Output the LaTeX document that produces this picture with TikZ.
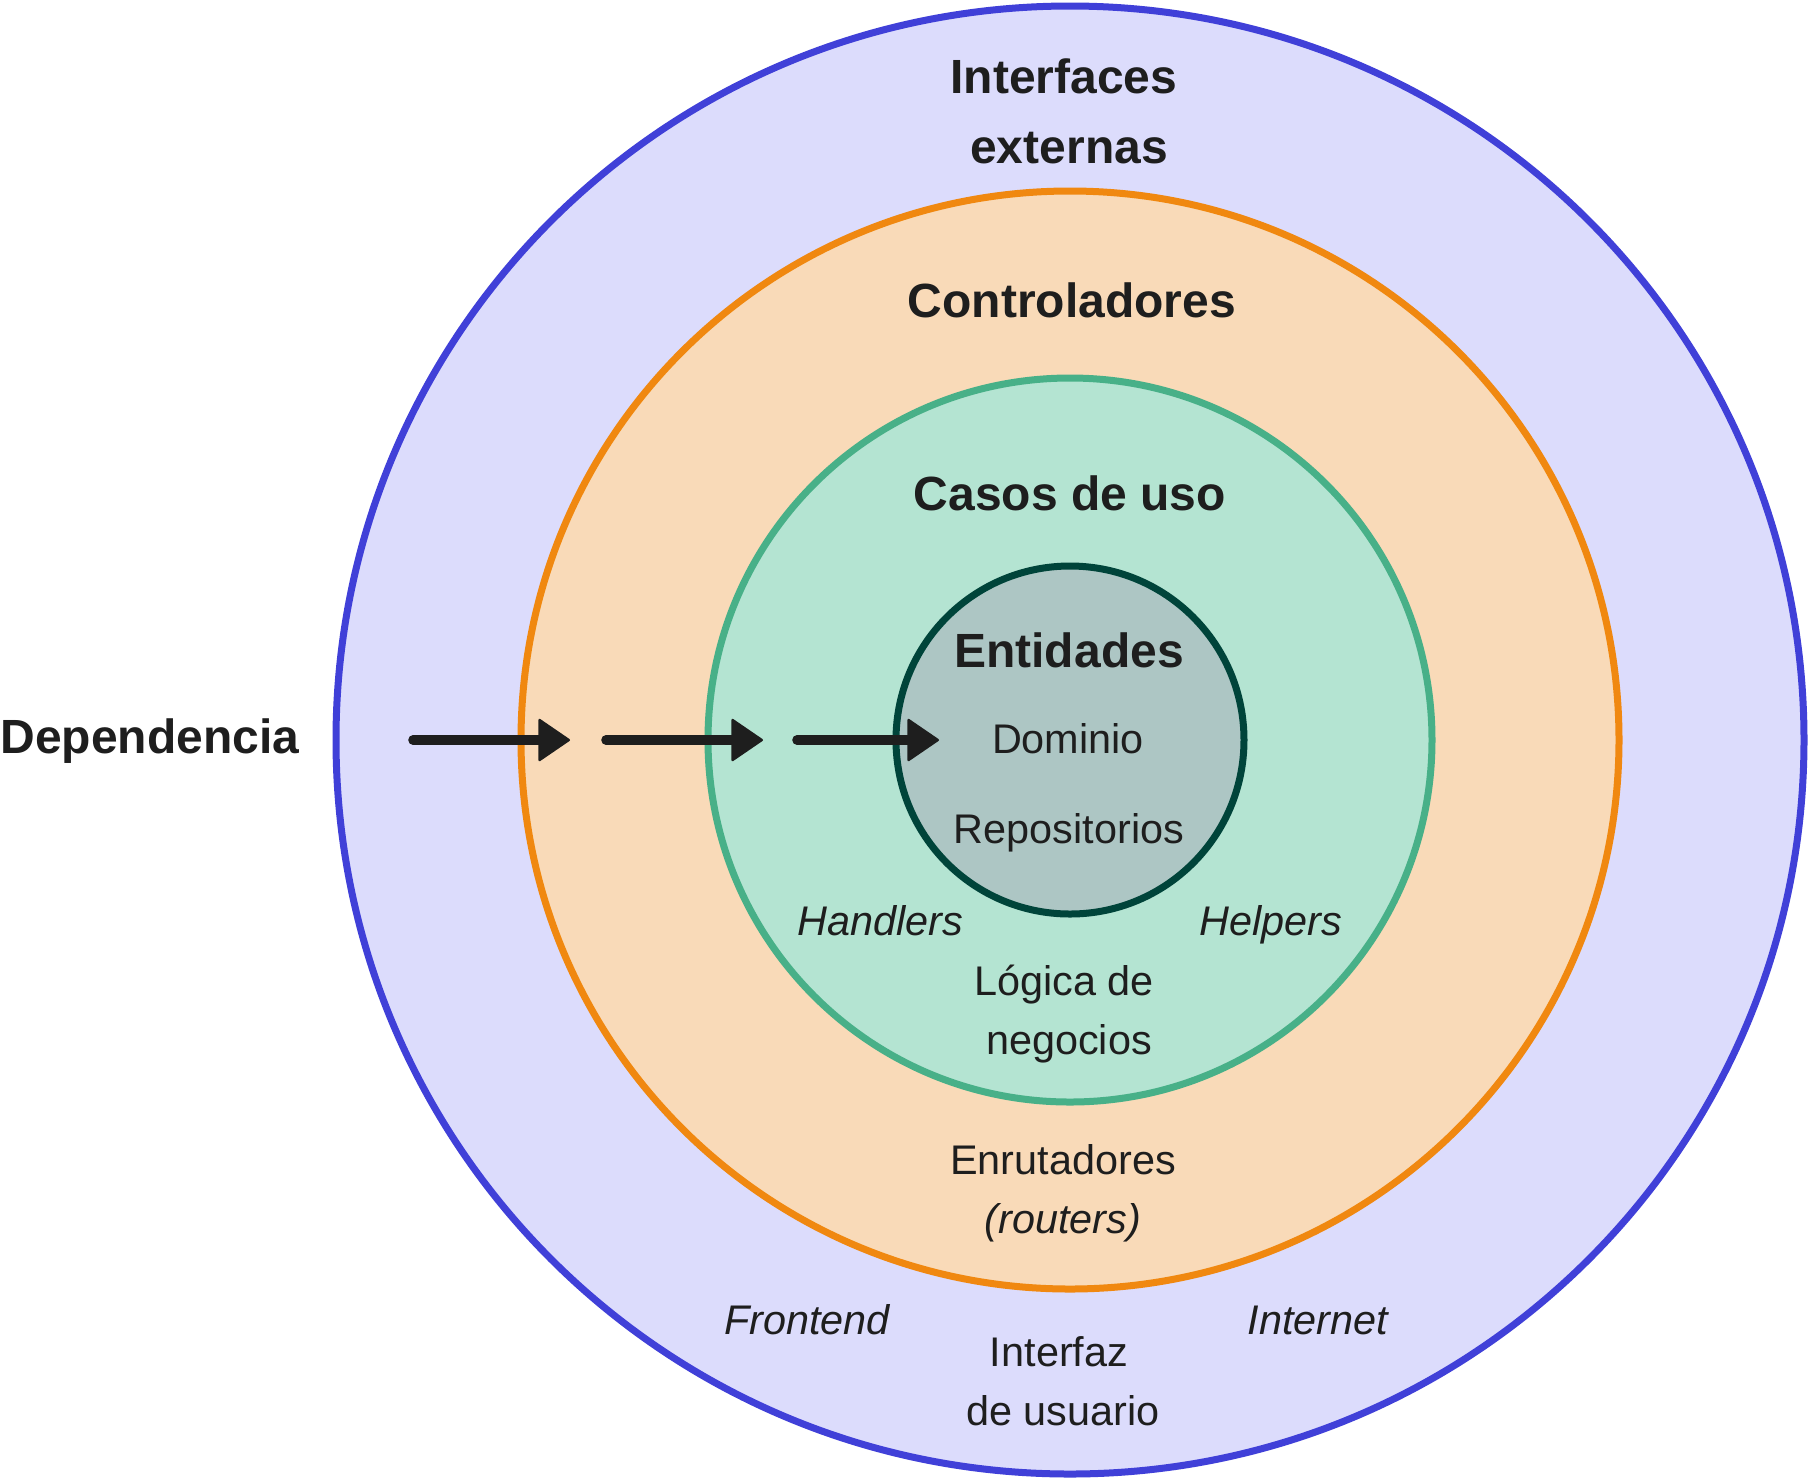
\documentclass[tikz,border=0pt]{standalone}
\usepackage{fontspec}
\setmainfont{Liberation Sans}
\usetikzlibrary{arrows.meta}
\definecolor{txt}{RGB}{30,30,30}
\definecolor{blueS}{RGB}{64,64,216}
\definecolor{blueF}{RGB}{220,220,252}
\definecolor{oranS}{RGB}{240,136,16}
\definecolor{oranF}{RGB}{249,218,184}
\definecolor{greenS}{RGB}{72,176,136}
\definecolor{greenF}{RGB}{180,228,210}
\definecolor{innS}{RGB}{0,68,58}
\definecolor{innF}{RGB}{173,198,196}
\tikzset{
  ring/.style={line width=3.5pt},
  ttl/.style={anchor=base, text=txt, inner sep=0pt, font=\fontsize{24}{35}\selectfont\bfseries},
  lbl/.style={anchor=base, text=txt, inner sep=0pt, font=\fontsize{20.7}{29.5}\selectfont},
  ilbl/.style={anchor=base, text=txt, inner sep=0pt, font=\fontsize{20.7}{29.5}\selectfont\itshape},
  dep/.style={line width=4.8pt, line cap=round, draw=txt,
    -{Triangle[length=16.3pt, width=22pt, line width=1.2pt, round]}}
}
\begin{document}
\begin{tikzpicture}[x=0.5pt,y=-0.5pt]
\useasboundingbox (0,0) rectangle (1810,1480);
\draw[ring, draw=blueS, fill=blueF] (1070,740) circle[radius=734];
\draw[ring, draw=oranS, fill=oranF] (1070,740) circle[radius=549];
\draw[ring, draw=greenS, fill=greenF] (1070,740) circle[radius=362];
\draw[ring, draw=innS, fill=innF] (1070,740) circle[radius=174];

\node[ttl] (interfaces) at (1064,93) {Interfaces};
\node[ttl] (externas) at (1069,163) {externas};
\node[ttl] (controladores) at (1072,317) {Controladores};
\node[ttl] (casos) at (1070,510) {Casos de uso};
\node[ttl] (entidades) at (1069,667) {Entidades};
\node[lbl] (dominio) at (1068,753) {Dominio};
\node[lbl] (repos) at (1069,843) {Repositorios};
\node[ilbl] (handlers) at (880,935) {Handlers};
\node[ilbl] (helpers) at (1271,935) {Helpers};
\node[lbl] (logica) at (1064,995) {Lógica de};
\node[lbl] (negocios) at (1069,1054) {negocios};
\node[lbl] (enrut) at (1063,1174) {Enrutadores};
\node[ilbl] (routers) at (1063,1233) {(routers)};
\node[ilbl] (frontend) at (807,1334) {Frontend};
\node[ilbl] (internet) at (1318,1334) {Internet};
\node[lbl] (interfaz) at (1059,1366) {Interfaz};
\node[lbl] (usuario) at (1063,1425) {de usuario};
\node[ttl, anchor=base west] (dependencia) at (0,753) {Dependencia};

\coordinate (a1s) at (413,740); \coordinate (a1e) at (570,740);
\coordinate (a2s) at (606,740); \coordinate (a2e) at (763,740);
\coordinate (a3s) at (797,740); \coordinate (a3e) at (939,740);
\draw[dep] (a1s) -- (a1e);
\draw[dep] (a2s) -- (a2e);
\draw[dep] (a3s) -- (a3e);
\end{tikzpicture}
\end{document}
